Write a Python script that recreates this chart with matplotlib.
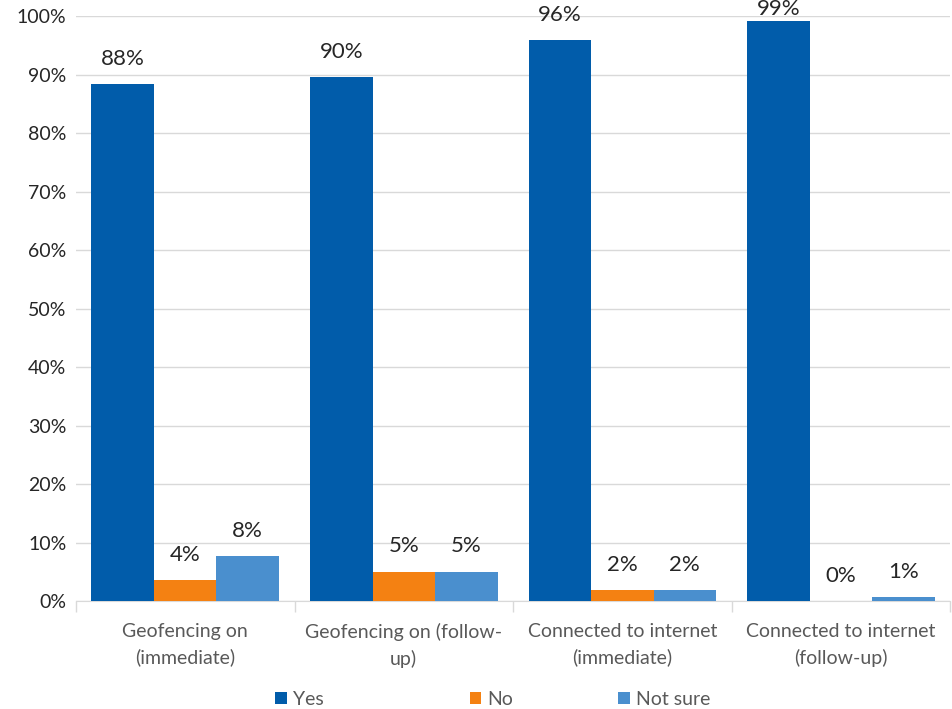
import matplotlib
matplotlib.use("Agg")
import matplotlib.pyplot as plt
import numpy as np
from matplotlib.ticker import PercentFormatter

plt.rcParams['font.family'] = ['Lato', 'DejaVu Sans']

categories = ["Geofencing on\n(immediate)", "Geofencing on (follow-\nup)",
              "Connected to internet\n(immediate)", "Connected to internet\n(follow-up)"]
yes = [88.4, 89.6, 95.9, 99.1]
no = [3.6, 5.0, 1.9, 0.0]
not_sure = [7.7, 5.0, 1.9, 0.7]
series_names = ["Yes", "No", "Not sure"]
colors = ["#015CAA", "#F48112", "#4A8FCE"]

fig = plt.figure(figsize=(9.53, 7.09), dpi=100)
ax = fig.add_axes([0.0797, 0.1523, 0.9173, 0.8251])

x = np.arange(len(categories))
w = 0.286
containers = []
for i, (vals, name, c) in enumerate(zip([yes, no, not_sure], series_names, colors)):
    pos = x + (i - 1) * w
    containers.append(ax.bar(pos, vals, width=w, color=c, label=name, zorder=3))
    for xp, v in zip(pos, vals):
        label = f"{round(v):.0f}%"
        if v > 96:
            # label pushed inside the plot area, as in the reference
            ax.annotate(label, (xp, 1.0), xycoords=("data", "axes fraction"),
                        xytext=(0, 12), textcoords="offset points",
                        ha="center", va="top", fontsize=16, color="#262626")
        else:
            ax.annotate(label, (xp, v), xytext=(0, 11), textcoords="offset points",
                        ha="center", va="bottom", fontsize=16, color="#262626")

ax.set_ylim(0, 100)
ax.set_xlim(-0.5, len(categories) - 0.5)
ax.set_yticks(np.arange(0, 101, 10))
ax.yaxis.set_major_formatter(PercentFormatter(decimals=0))
ax.tick_params(axis='y', length=0, labelsize=14, labelcolor="#262626", pad=7)
ax.grid(axis='y', color="#D9D9D9", linewidth=1, zorder=0)

ax.set_xticks(x)
ax.set_xticklabels(categories, fontsize=14, color="#595959", linespacing=1.55)
ax.tick_params(axis='x', length=0, pad=16)
ax.set_xticks(np.arange(-0.5, len(categories)), minor=True)
ax.tick_params(axis='x', which='minor', length=8, color="#D9D9D9", width=1)

for s in ["top", "right", "left"]:
    ax.spines[s].set_visible(False)
ax.spines["bottom"].set_color("#D9D9D9")

legend_x = [0.289, 0.493, 0.649]
for cont, name, lx in zip(containers, series_names, legend_x):
    lg = fig.legend([cont], [name], loc="lower left", bbox_to_anchor=(lx, 0.002),
                    frameon=False, fontsize=14, handlelength=0.6, handleheight=0.6,
                    handletextpad=0.3, borderpad=0, borderaxespad=0, labelcolor="#595959")

fig.savefig("out.png", dpi=100)
